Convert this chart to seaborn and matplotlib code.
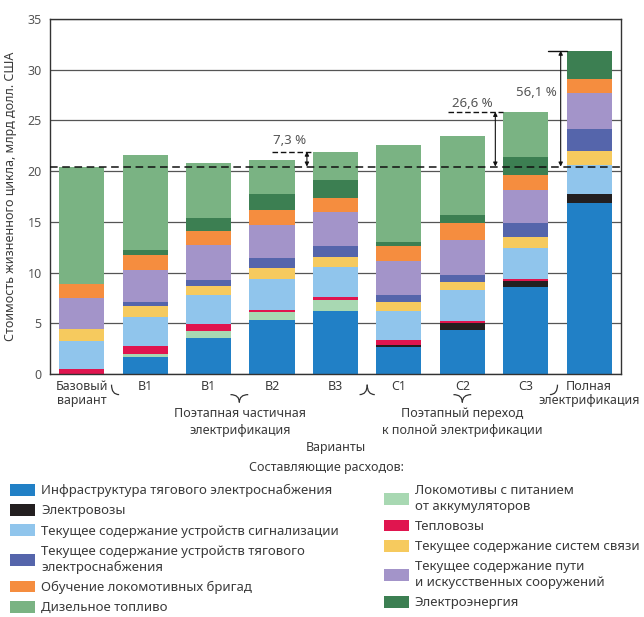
import numpy as np
import pandas as pd
import matplotlib
matplotlib.use("Agg")
import matplotlib.pyplot as plt
import matplotlib.transforms as mtransforms
from matplotlib.path import Path
from matplotlib.patches import PathPatch, Patch
import seaborn as sns

# --- data, млрд долл. США ---
variants = ["Базовый\nвариант", "B1", "B1", "B2", "B3", "C1", "C2", "C3",
            "Полная\nэлектрификация"]

infra = [0, 1.7, 3.6, 5.3, 6.2, 2.7, 4.35, 8.55, 16.85]
electrovoz = [0, 0, 0, 0, 0, 0.2, 0.65, 0.6, 0.85]
battery = [0, 0.27, 0.6, 0.85, 1.12, 0, 0, 0, 0]
teplovoz = [0.5, 0.75, 0.7, 0.2, 0.26, 0.45, 0.2, 0.2, 0]
signal = [2.8, 2.95, 2.93, 3.06, 2.93, 2.9, 3.08, 3.09, 2.9]
comms = [1.1, 0.99, 0.89, 1.05, 1.0, 0.89, 0.82, 1.02, 1.39]
traction = [0, 0.4, 0.59, 1.0, 1.12, 0.69, 0.66, 1.38, 2.14]
track = [3.05, 3.17, 3.38, 3.2, 3.36, 3.32, 3.44, 3.29, 3.55]
training = [1.4, 1.54, 1.45, 1.47, 1.35, 1.48, 1.66, 1.48, 1.38]
energy = [0, 0.49, 1.22, 1.63, 1.74, 0.36, 0.82, 1.74, 2.82]
diesel = [11.6, 9.3, 5.46, 3.37, 2.85, 9.54, 7.82, 4.5, 0]

pct_labels = ["7,3 %", "26,6 %", "56,1 %"]
pct_bars = [4, 7, 8]

groups = ["Поэтапная частичная\nэлектрификация",
          "Поэтапный переход\nк полной электрификации"]

# stack order, bottom -> top
components = [
    ("Инфраструктура тягового электроснабжения", infra, "#2180c6"),
    ("Электровозы", electrovoz, "#231f20"),
    ("Локомотивы с питанием\nот аккумуляторов", battery, "#a8d8b2"),
    ("Тепловозы", teplovoz, "#e0154f"),
    ("Текущее содержание устройств сигнализации", signal, "#90c5ec"),
    ("Текущее содержание систем связи", comms, "#f6ca5e"),
    ("Текущее содержание устройств тягового\nэлектроснабжения", traction, "#5565ab"),
    ("Текущее содержание пути\nи искусственных сооружений", track, "#a394c9"),
    ("Обучение локомотивных бригад", training, "#f58d3f"),
    ("Электроэнергия", energy, "#3c7f52"),
    ("Дизельное топливо", diesel, "#7ab383"),
]
names = [c[0] for c in components]
palette = {c[0]: c[2] for c in components}

rows = []
for name, vals, col in components:
    for i, v in enumerate(vals):
        rows.append({"pos": i, "comp": name, "value": v})
df = pd.DataFrame(rows)
totals = np.sum([c[1] for c in components], axis=0)
base = totals[0]

# --- style ---
sns.set_style("white")
plt.rcParams["font.family"] = ["Noto Sans", "DejaVu Sans"]
txt = "#3a3a3a"

fig = plt.figure(figsize=(6.44, 6.17), dpi=100)
ax = fig.add_axes([0.0776, 0.3938, 0.8866, 0.5754])

# seaborn stacks the last hue level at the bottom
sns.histplot(data=df, x="pos", weights="value", hue="comp",
             hue_order=names[::-1], palette=palette, multiple="stack",
             discrete=True, shrink=0.71, linewidth=0, alpha=1,
             legend=False, ax=ax)

ax.set_xlim(-0.5, 8.5)
ax.set_ylim(0, 35)
ax.set_yticks(range(0, 36, 5))
ax.set_xticks(range(len(variants)))
ax.set_xticklabels(variants, fontsize=9, color=txt, linespacing=1.15)
ax.set_xticks(np.arange(0.5, 8, 1), minor=True)
ax.tick_params(axis="x", which="major", length=0, pad=4)
ax.tick_params(axis="x", which="minor", length=9, width=1, color="#333333")
ax.tick_params(axis="y", length=4, width=1, color="#333333", labelsize=9,
               labelcolor="#555555", pad=2)
ax.yaxis.grid(True, color="#555555", lw=0.9)
ax.set_axisbelow(True)
for s in ax.spines.values():
    s.set_color("#333333")
    s.set_linewidth(1)

ax.set_xlabel("")
ax.set_ylabel("Стоимость жизненного цикла, млрд долл. США", fontsize=9,
              color=txt)
ax.yaxis.set_label_coords(-0.058, 0.5)

# baseline level
ax.axhline(base, color="#111111", lw=1.1, ls=(0, (5, 3)), zorder=3)

# percent markers
pct_x = [(3.0, 3.55, 3.27, 23.0, "dash"), (5.78, 6.52, 6.16, 26.7, "dash"),
         (7.35, 7.55, 7.16, 27.8, "solid")]
for (x0, xa, xt, yt, st), lab, b in zip(pct_x, pct_labels, pct_bars):
    top = totals[b]
    ls = (0, (4, 2)) if st == "dash" else "-"
    ax.plot([x0, b - 0.355], [top, top], color="#111111", lw=1, ls=ls,
            zorder=3)
    ax.annotate("", xy=(xa, top), xytext=(xa, base),
                arrowprops=dict(arrowstyle="<|-|>", lw=0.8, color="#111111",
                                mutation_scale=6, shrinkA=0, shrinkB=0),
                zorder=3)
    ax.text(xt, yt, lab, ha="center", va="center", fontsize=9.5, color="#555555")

# braces under the variant labels
trans = mtransforms.blended_transform_factory(ax.transData, ax.transAxes)
y_top, y_mid, y_tip = -0.030, -0.058, -0.080


def brace(x0, x1):
    m = (x0 + x1) / 2
    parts = [
        [(x0, y_top), (x0, y_mid), (x0 + 0.12, y_mid)],
        [(x1, y_top), (x1, y_mid), (x1 - 0.12, y_mid)],
    ]
    for p in parts:
        ax.add_patch(PathPatch(Path(p, [Path.MOVETO, Path.CURVE3, Path.CURVE3]),
                               fill=False, lw=0.9, color="#333333",
                               transform=trans, clip_on=False))
    tip = [(m - 0.14, y_mid), (m, y_mid), (m, y_tip), (m, y_mid), (m + 0.14, y_mid)]
    ax.add_patch(PathPatch(Path(tip, [Path.MOVETO, Path.CURVE3, Path.CURVE3,
                                      Path.CURVE3, Path.CURVE3]),
                           fill=False, lw=0.9, color="#333333",
                           transform=trans, clip_on=False))


brace(0.47, 4.5)
brace(4.5, 7.5)

ax.text(2.5, -0.135, groups[0], transform=trans, ha="center", va="center",
        fontsize=9, color=txt, linespacing=1.35)
ax.text(6.0, -0.135, groups[1], transform=trans, ha="center", va="center",
        fontsize=9, color=txt, linespacing=1.35)
ax.text(0.5, -0.206, "Варианты", transform=ax.transAxes, ha="center",
        va="center", fontsize=9, color=txt)

# legend in two columns
handles = [Patch(facecolor=c[2], edgecolor="none") for c in components]
left_idx = [0, 1, 4, 6, 8, 10]
right_idx = [2, 3, 5, 7, 9]
leg_kw = dict(loc="upper left", frameon=False, fontsize=9.5, handlelength=1.9,
              handleheight=1.0, handletextpad=0.45, labelspacing=0.52,
              borderpad=0, borderaxespad=0, labelcolor=txt)
leg1 = fig.legend([handles[i] for i in left_idx], [names[i] for i in left_idx],
                  bbox_to_anchor=(0.0155, 0.216), **leg_kw)
leg2 = fig.legend([handles[i] for i in right_idx], [names[i] for i in right_idx],
                  bbox_to_anchor=(0.596, 0.216), **leg_kw)
for leg in (leg1, leg2):
    for t in leg.get_texts():
        t.set_linespacing(1.3)
fig.text(0.507, 0.243, "Составляющие расходов:", ha="center", va="center",
         fontsize=9, color=txt)

fig.savefig("out.png", dpi=100)
